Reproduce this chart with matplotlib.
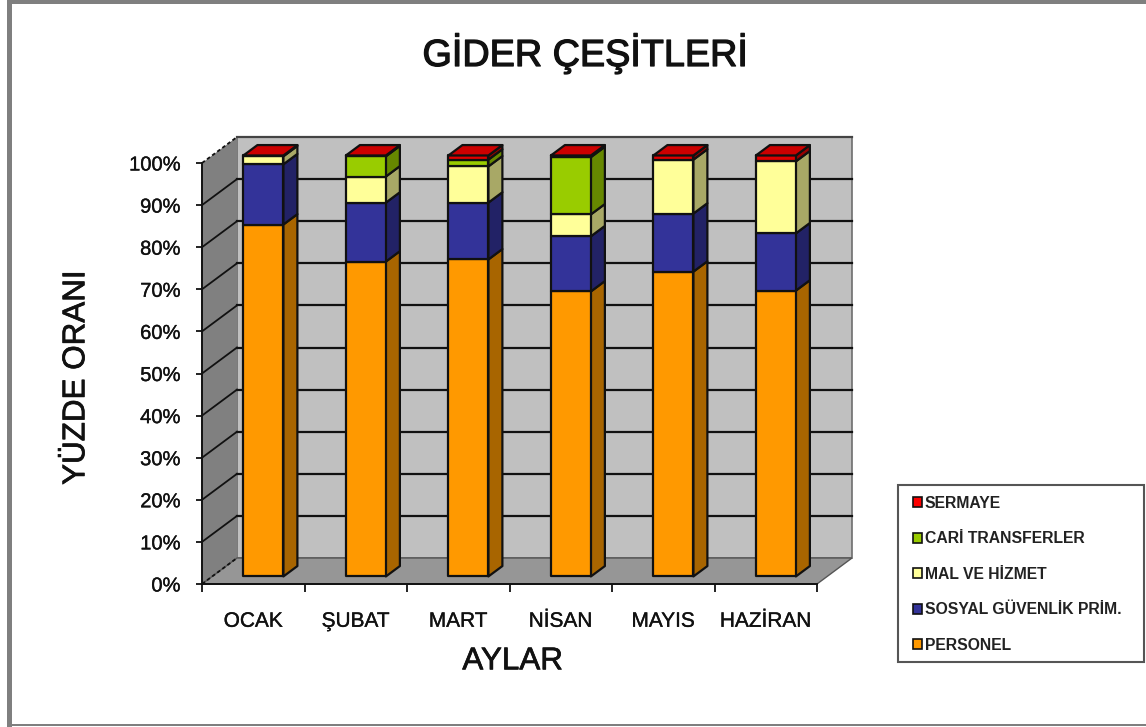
import matplotlib
matplotlib.use("Agg")
import matplotlib.pyplot as plt
import matplotlib.patheffects as pe
from matplotlib.patches import Polygon, Patch, Rectangle
import numpy as np

plt.rcParams['font.family'] = ['Liberation Sans', 'DejaVu Sans']

months = ["OCAK", "ŞUBAT", "MART", "NİSAN", "MAYIS", "HAZİRAN"]
personel = [83.6, 74.8, 75.3, 67.7, 72.4, 67.9]
sosyal = [14.3, 14.0, 13.5, 13.1, 13.8, 13.6]
mal = [1.9, 6.2, 8.6, 5.2, 12.8, 17.1]
cari = [0.0, 4.8, 1.6, 13.6, 0.0, 0.0]
sermaye = [0.2, 0.2, 1.0, 0.4, 1.0, 1.4]
series_names = ["PERSONEL", "SOSYAL GÜVENLİK PRİM.", "MAL VE HİZMET", "CARİ TRANSFERLER", "SERMAYE"]
front_colors = ["#FF9900", "#333399", "#FFFF99", "#99CC00", "#E00000"]
side_colors = ["#A86500", "#222266", "#A8A866", "#668800", "#990000"]
top_color = "#CC0000"

W, H = 1146, 727
fig = plt.figure(figsize=(W / 100, H / 100), dpi=100, facecolor="white")
# axes = front plane of the fake 3d box
ax = fig.add_axes([202 / W, 1 - 584 / H, 615 / W, 421 / H])
ax.set_xlim(0, 6)
ax.set_ylim(0, 100)
ax.patch.set_visible(False)

# depth of the box, in data units
DX = 35 / (615 / 6)
DY = 26 / 4.21

# text in the reference is a bit heavier than the regular weight
light = [pe.withStroke(linewidth=0.25, foreground="#111111")]
heavy = [pe.withStroke(linewidth=0.5, foreground="#111111")]


def pt(x, y, d):
    return (x + d * DX, y + d * DY)


def face(points, color, z, lw=1.6):
    ax.add_patch(Polygon(points, closed=True, facecolor=color, edgecolor="#111111",
                         linewidth=lw, zorder=z, clip_on=False, joinstyle="round"))


# walls and floor
ax.add_patch(Polygon([pt(0, 0, 1), pt(6, 0, 1), pt(6, 100, 1), pt(0, 100, 1)], facecolor="#C0C0C0",
                     edgecolor="#6e6e6e", linewidth=1.2, zorder=1, clip_on=False))
ax.add_patch(Polygon([pt(0, 0, 0), pt(0, 0, 1), pt(0, 100, 1), pt(0, 100, 0)], facecolor="#808080",
                     edgecolor="none", zorder=1, clip_on=False))
ax.add_patch(Polygon([pt(0, 0, 0), pt(6, 0, 0), pt(6, 0, 1), pt(0, 0, 1)], facecolor="#969696",
                     edgecolor="#555555", linewidth=1.0, zorder=1.5, clip_on=False))

# gridlines run along the side wall and the back wall
yticks = np.arange(0, 101, 10)
for v in yticks:
    ls = "-" if 0 < v < 100 else (0, (2, 1.5))
    a, b = pt(0, v, 0), pt(0, v, 1)
    ax.plot([a[0], b[0]], [a[1], b[1]], color="#111111", lw=1.3, ls=ls, zorder=2, clip_on=False)
    if v > 0:
        c = pt(6, v, 1)
        col = "#111111" if v < 100 else "#444444"
        ax.plot([b[0], c[0]], [b[1], c[1]], color=col, lw=1.6, zorder=2, clip_on=False)

# stacked bars
d0, d1 = 0.29, 0.69
bw = 0.39
values = [personel, sosyal, mal, cari, sermaye]
for i in range(len(months)):
    left = i + 0.5 - bw / 2
    right = left + bw
    base = 0.0
    for s, vals in enumerate(values):
        v = vals[i]
        if v <= 0:
            continue
        top = base + v
        z = 3 + i + s * 0.01
        face([pt(right, base, d0), pt(right, base, d1), pt(right, top, d1), pt(right, top, d0)], side_colors[s], z)
        face([pt(left, base, d0), pt(right, base, d0), pt(right, top, d0), pt(left, top, d0)], front_colors[s], z)
        base = top
    face([pt(left, base, d0), pt(right, base, d0), pt(right, base, d1), pt(left, base, d1)], top_color, 3 + i + 0.5)

# axis
for side in ["top", "right"]:
    ax.spines[side].set_visible(False)
for side in ["left", "bottom"]:
    ax.spines[side].set_linewidth(1.4)
    ax.spines[side].set_color("#111111")
    ax.spines[side].set_zorder(20)
ax.set_yticks(yticks)
ax.set_yticklabels([f"{v}%" for v in yticks], fontsize=14.5, color="#111111")
ax.tick_params(axis="y", length=4, width=1.3, pad=11.5, color="#111111")
ax.set_xticks(np.arange(0, 7))
ax.set_xticklabels([])
ax.set_xticks(np.arange(6) + 0.5, minor=True)
ax.set_xticklabels(months, minor=True, fontsize=15, color="#111111")
ax.tick_params(axis="x", which="major", length=6, width=1.3, color="#111111")
ax.tick_params(axis="x", which="minor", length=0, pad=20)
for t in ax.get_yticklabels() + ax.get_xticklabels(minor=True):
    t.set_path_effects(light)

xl = ax.set_xlabel("AYLAR", fontsize=22.6, color="#111111")
ax.xaxis.set_label_coords(0.505, -0.148)
yl = ax.set_ylabel("YÜZDE ORANI", fontsize=22.6, color="#111111")
ax.yaxis.set_label_coords(-0.18, 0.49)
xl.set_path_effects(heavy)
yl.set_path_effects(heavy)

title = fig.text(585 / W, 1 - 53 / H, "GİDER ÇEŞİTLERİ", fontsize=27.2,
                 color="#111111", ha="center", va="center")
title.set_path_effects([pe.withStroke(linewidth=0.9, foreground="#111111")])

# legend box drawn apart because its padding is not even on all sides
fig.add_artist(Rectangle((898 / W, 1 - 662 / H), 246 / W, 177 / H, transform=fig.transFigure,
                         facecolor="white", edgecolor="#555555", linewidth=1.5))
handles = [Patch(facecolor=front_colors[s] if s < 4 else "#FF0000", edgecolor="#111111", linewidth=1.2,
                 label=series_names[s]) for s in range(4, -1, -1)]
leg = fig.legend(handles=handles, loc="upper left", bbox_to_anchor=(913 / W, 1 - 496 / H),
                 bbox_transform=fig.transFigure, borderaxespad=0, frameon=False, handlelength=0.6,
                 handleheight=0.6, handletextpad=0.15, labelspacing=1.3, borderpad=0,
                 prop={"family": "Liberation Sans", "weight": "bold", "size": 11.3})
leg.set_zorder(30)
for t in leg.get_texts():
    t.set_color("#222222")

# grey frame of the screenshot
for x, y, w, h in [(7, 0, 5, 727), (7, 0, 1139, 4), (7, 724, 1139, 2)]:
    fig.add_artist(Rectangle((x / W, 1 - (y + h) / H), w / W, h / H, transform=fig.transFigure,
                             facecolor="#7f7f7f", edgecolor="none"))

fig.savefig("out.png", dpi=100)
